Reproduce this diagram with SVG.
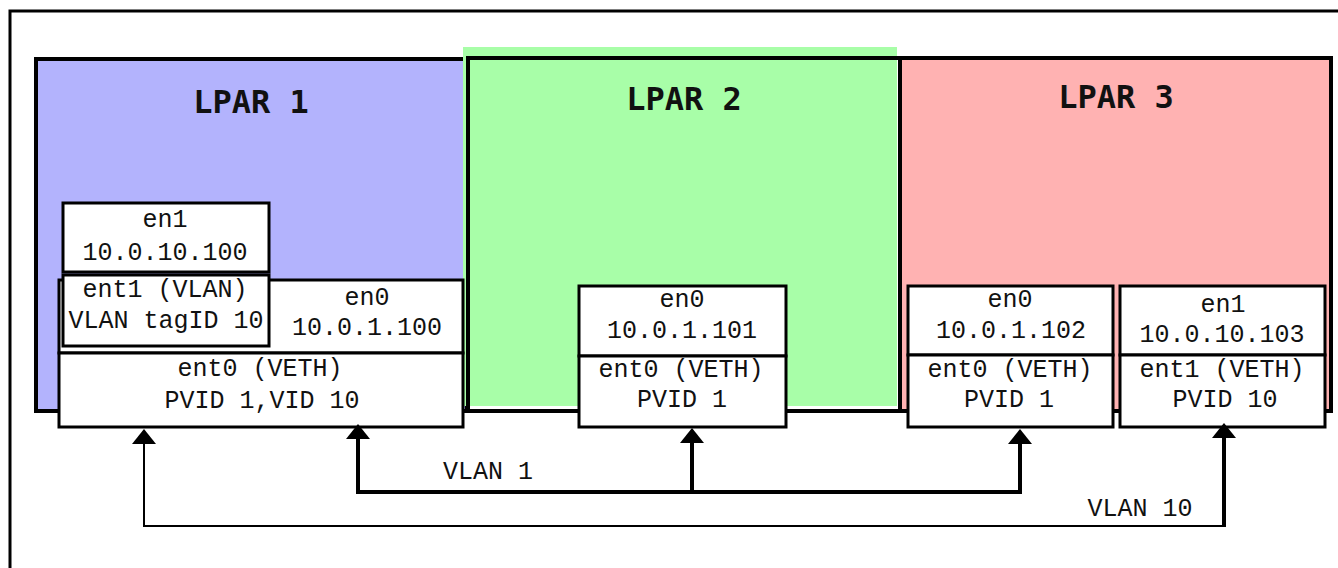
<svg xmlns="http://www.w3.org/2000/svg" xmlns:xlink="http://www.w3.org/1999/xlink" width="1338" height="568" viewBox="0 0 1338 568">
<style>
.t{font-family:"Liberation Mono","DejaVu Sans Mono",monospace;font-size:25px;fill:#111;text-anchor:middle}
.title{font-family:"DejaVu Sans Mono","Liberation Mono",monospace;font-size:32px;font-weight:bold;fill:#111;text-anchor:middle}
.box{fill:#fff;stroke:#000;stroke-width:3}
.lp{stroke:#000;stroke-width:4}
.thick{fill:none;stroke:#000;stroke-width:4}
.thin{fill:none;stroke:#000;stroke-width:2}
</style>
<defs>
<path id="ah" d="M0,0 L-12,15 L12,15 Z" fill="#000"/>
</defs>
<rect width="1338" height="568" fill="#fff"/>
<path d="M1340,11 H10 V570" fill="none" stroke="#000" stroke-width="3"/>

<g id="lpar1">
<rect class="lp" x="36" y="59" width="431" height="352" fill="#b3b3fd"/>
<text class="title" x="251" y="113">LPAR 1</text>
</g>
<g id="lpar2">
<rect x="463" y="47" width="434" height="359" fill="#a8fea8"/>
<rect class="lp" x="468" y="58" width="432" height="353" fill="none"/>
<text class="title" x="684" y="110">LPAR 2</text>
</g>
<g id="lpar3">
<rect class="lp" x="900" y="58" width="431" height="353" fill="#ffb2b2"/>
<text class="title" x="1116" y="108">LPAR 3</text>
</g>

<g id="lpar1-en0">
<rect class="box" x="59" y="280" width="404" height="73"/>
<text class="t" x="367" y="305">en0</text>
<text class="t" x="367" y="335">10.0.1.100</text>
</g>
<g id="lpar1-ent0">
<rect class="box" x="59" y="353" width="404" height="74"/>
<text class="t" x="260" y="376">ent0 (VETH)</text>
<text class="t" x="262" y="408">PVID 1,VID 10</text>
</g>
<g id="lpar1-en1">
<rect class="box" x="63" y="203" width="206" height="69"/>
<text class="t" x="165" y="227">en1</text>
<text class="t" x="165" y="260">10.0.10.100</text>
</g>
<g id="lpar1-ent1">
<rect class="box" x="63" y="275" width="206" height="71"/>
<text class="t" x="165" y="297">ent1 (VLAN)</text>
<text class="t" x="166" y="328">VLAN tagID 10</text>
</g>

<g id="lpar2-en0">
<rect class="box" x="579" y="286" width="207" height="70"/>
<text class="t" x="682" y="307">en0</text>
<text class="t" x="682" y="338">10.0.1.101</text>
</g>
<g id="lpar2-ent0">
<rect class="box" x="579" y="356" width="207" height="71"/>
<text class="t" x="681" y="377">ent0 (VETH)</text>
<text class="t" x="682" y="407">PVID 1</text>
</g>

<g id="lpar3-en0">
<rect class="box" x="908" y="286" width="205" height="69"/>
<text class="t" x="1010" y="307">en0</text>
<text class="t" x="1011" y="338">10.0.1.102</text>
</g>
<g id="lpar3-ent0">
<rect class="box" x="908" y="355" width="205" height="72"/>
<text class="t" x="1010" y="377">ent0 (VETH)</text>
<text class="t" x="1009" y="407">PVID 1</text>
</g>
<g id="lpar3-en1">
<rect class="box" x="1120" y="286" width="205" height="69"/>
<text class="t" x="1223" y="312">en1</text>
<text class="t" x="1222" y="342">10.0.10.103</text>
</g>
<g id="lpar3-ent1">
<rect class="box" x="1120" y="355" width="205" height="72"/>
<text class="t" x="1222" y="377">ent1 (VETH)</text>
<text class="t" x="1225" y="407">PVID 10</text>
</g>

<g id="connectors">
<path class="thick" d="M358,438 V492 H1020 V438"/>
<path class="thick" d="M692,438 V492"/>
<path class="thin" d="M144,440 V526 H1224"/>
<path class="thick" d="M1224,527 V436"/>
<use xlink:href="#ah" x="358" y="424"/>
<use xlink:href="#ah" x="692" y="428"/>
<use xlink:href="#ah" x="1020" y="429"/>
<use xlink:href="#ah" x="144" y="429"/>
<use xlink:href="#ah" x="1224" y="423"/>
<text class="t" x="488" y="479">VLAN 1</text>
<text class="t" x="1140" y="516">VLAN 10</text>
</g>
</svg>
